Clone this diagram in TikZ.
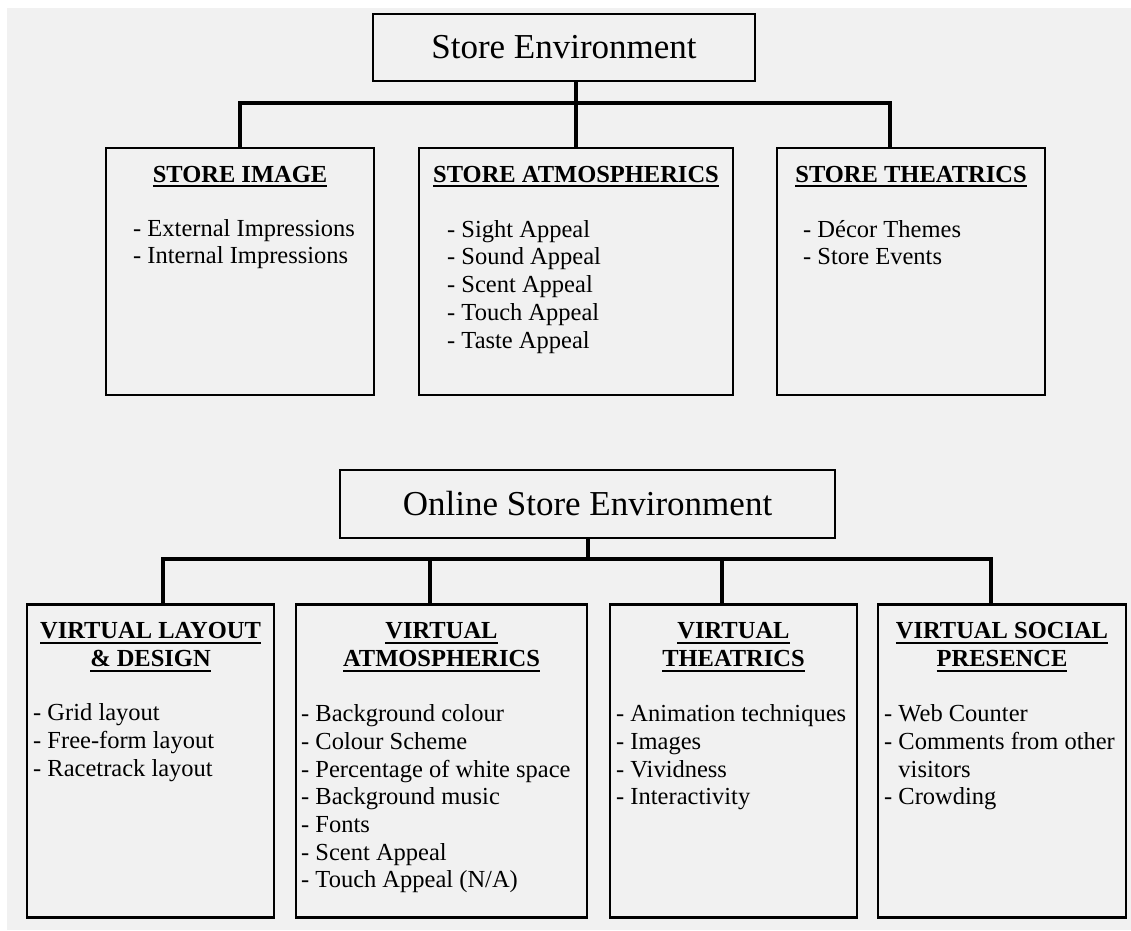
\documentclass[tikz,border=0pt]{standalone}
\usepackage{fontspec}
\setmainfont{Liberation Serif}
\usetikzlibrary{positioning}
\definecolor{paper}{HTML}{F1F1F1}
% underlined heading line
\newsavebox\headbox
\newcommand{\headul}[1]{\sbox\headbox{#1}\rlap{\rule[-5pt]{\wd\headbox}{2pt}}\usebox\headbox}

\begin{document}
\begin{tikzpicture}[
  x=1pt, y=-1pt,
  box/.style={draw, line width=2.8pt, fill=paper, inner sep=0pt, outer sep=0pt},
  title/.style={box, font=\fontsize{35}{40}\selectfont},
  % first line starts with an 18pt strut, so the node top sits 18pt above the first baseline
  head/.style={align=center, inner sep=0pt, anchor=north,
               font=\fontsize{24.5}{27.7}\selectfont\bfseries,
               execute at begin node=\rule{0pt}{18pt}},
  items/.style={align=left, inner sep=0pt, anchor=north west,
                font=\fontsize{24.5}{27.7}\selectfont,
                execute at begin node=\rule{0pt}{18pt}},
  conn/.style={line width=4pt}
]
\useasboundingbox (0,0) rectangle (1131,930);
\fill[white] (0,0) rectangle (1131,930);
\fill[paper] (7,8) rectangle (1131,930);

% physical store
\node[title, minimum width=382pt, minimum height=67pt] (store) at (564,47.5) {Store Environment};
\node[box, minimum width=268pt, minimum height=247pt] (si) at (240,271.5) {};
\node[box, minimum width=314pt, minimum height=247pt, right=45pt of si] (sa) {};
\node[box, minimum width=268pt, minimum height=247pt, right=44pt of sa] (st) {};

\node[head] (sihead) at ([yshift=-16pt]si.north) {\headul{STORE IMAGE}};
\node[head] (sahead) at ([yshift=-16pt]sa.north) {\headul{STORE ATMOSPHERICS}};
\node[head] (sthead) at ([yshift=-16pt]st.north) {\headul{STORE THEATRICS}};

\node[items] (silist) at ([shift={(27pt,-71pt)}]si.north west)
  {- External Impressions\\- Internal Impressions};
\node[items] (salist) at ([shift={(28pt,-72pt)}]sa.north west)
  {- Sight Appeal\\- Sound Appeal\\- Scent Appeal\\- Touch Appeal\\- Taste Appeal};
\node[items] (stlist) at ([shift={(26pt,-72pt)}]st.north west)
  {- Décor Themes\\- Store Events};

\coordinate (topbus) at (0,103);
\coordinate (stdrop) at ([xshift=-21pt]st.north);
\draw[conn] (store.south -| sa.north) -- (sa.north);
\draw[conn] (si.north) |- (topbus -| stdrop) -- (stdrop);

% online store
\node[title, minimum width=495pt, minimum height=68pt] (online) at (587.5,504) {Online Store Environment};
\node[box, minimum width=247pt, minimum height=313pt] (vl) at (150.5,761) {};
\node[box, minimum width=291pt, minimum height=313pt, right=22pt of vl] (va) {};
\node[box, minimum width=247pt, minimum height=313pt, right=23pt of va] (vt) {};
\node[box, minimum width=248pt, minimum height=313pt, right=21pt of vt] (vs) {};

\node[head] (vlhead) at ([yshift=-18pt]vl.north) {\headul{VIRTUAL LAYOUT}\\\headul{\& DESIGN}};
\node[head] (vahead) at ([yshift=-18pt]va.north) {\headul{VIRTUAL}\\\headul{ATMOSPHERICS}};
\node[head] (vthead) at ([yshift=-18pt]vt.north) {\headul{VIRTUAL}\\\headul{THEATRICS}};
\node[head] (vshead) at ([yshift=-18pt]vs.north) {\headul{VIRTUAL SOCIAL}\\\headul{PRESENCE}};

\node[items] (vllist) at ([shift={(6pt,-99pt)}]vl.north west)
  {- Grid layout\\- Free-form layout\\- Racetrack layout};
\node[items] (valist) at ([shift={(5pt,-100pt)}]va.north west)
  {- Background colour\\- Colour Scheme\\- Percentage of white space\\- Background music\\- Fonts\\- Scent Appeal\\- Touch Appeal (N/A)};
\node[items] (vtlist) at ([shift={(6pt,-100pt)}]vt.north west)
  {- Animation techniques\\- Images\\- Vividness\\- Interactivity};
\node[items] (vslist) at ([shift={(6pt,-100pt)}]vs.north west)
  {- Web Counter\\- Comments from other\\\phantom{- }visitors\\- Crowding};

\coordinate (lowbus) at (0,559);
\coordinate (vldrop) at ([xshift=12.5pt]vl.north);
\coordinate (vadrop) at ([xshift=-11.5pt]va.north);
\coordinate (vtdrop) at ([xshift=-11.5pt]vt.north);
\coordinate (vsdrop) at ([xshift=-11pt]vs.north);
\draw[conn] (online.south) -- (online.south |- lowbus);
\draw[conn] (vldrop) |- (lowbus -| vsdrop) -- (vsdrop);
\draw[conn] (vadrop) -- (vadrop |- lowbus);
\draw[conn] (vtdrop) -- (vtdrop |- lowbus);
\end{tikzpicture}
\end{document}
